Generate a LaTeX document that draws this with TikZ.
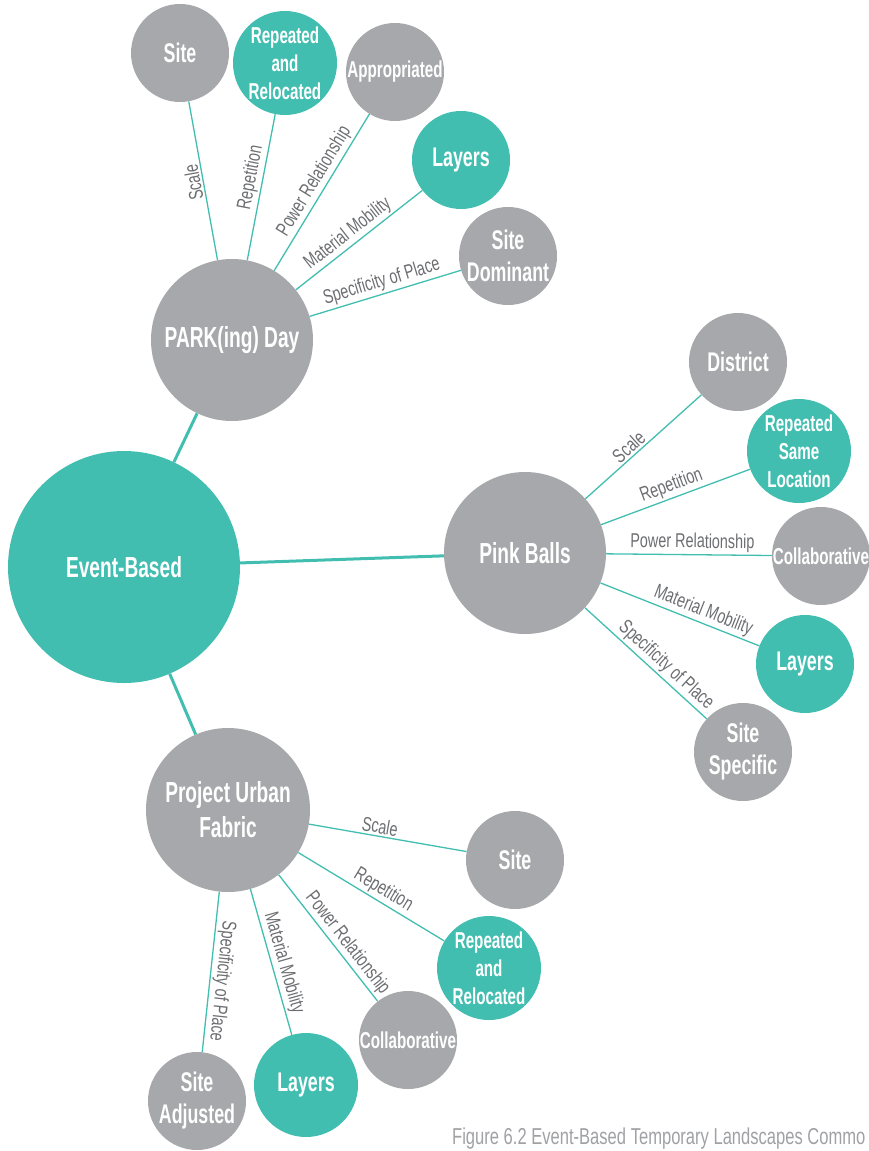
\documentclass[tikz,border=0pt]{standalone}
\usepackage{fontspec}
\usepackage{tikz}
\setmainfont{Liberation Sans}
\newfontfamily\bubblefont{Liberation Sans}[FakeStretch=0.66]
\newfontfamily\spokefont{Liberation Sans}[FakeStretch=0.72]

\definecolor{ebteal}{HTML}{42BEB1}
\definecolor{ebgray}{HTML}{A7A8AB}
\definecolor{spokegray}{HTML}{6D6E71}
\definecolor{figgray}{HTML}{A0A1A4}

\begin{document}
\begin{tikzpicture}[x=1pt, y=-1pt,
    bubble/.style={circle, inner sep=0pt, text=white, align=center},
    hubtext/.style={font=\bubblefont\bfseries\fontsize{29}{35}\selectfont},
    bigtext/.style={font=\bubblefont\bfseries\fontsize{27}{32}\selectfont},
    smalltext/.style={font=\bubblefont\bfseries\fontsize{23}{28}\selectfont},
    spoke/.style={draw=ebteal, line width=1.3pt},
    trunk/.style={draw=ebteal, line width=3pt},
    spokelabel/.style={font=\spokefont\fontsize{20}{24}\selectfont, text=spokegray, sloped, above, inner sep=2pt}]

\useasboundingbox (0, 0) rectangle (869, 1151);

\node[bubble, hubtext, fill=ebteal, minimum size=232] (eb) at (124, 567) {Event-Based};
\node[bubble, hubtext, fill=ebgray, minimum size=162] (park) at (232, 340) {PARK(ing) Day};
\node[bubble, hubtext, fill=ebgray, minimum size=162] (pink) at (525, 553) {Pink Balls};
\node[bubble, hubtext, fill=ebgray, minimum size=164] (puf) at (228, 810) {Project Urban\\Fabric};

\node[bubble, bigtext, fill=ebgray, minimum size=98] (park-site) at (180, 53) {Site};
\node[bubble, smalltext, fill=ebteal, minimum size=104] (park-rep) at (285, 63) {Repeated\\and\\Relocated};
\node[bubble, smalltext, fill=ebgray, minimum size=98] (park-appr) at (395, 72) {Appropriated};
\node[bubble, bigtext, fill=ebteal, minimum size=98] (park-lay) at (461, 160) {Layers};
\node[bubble, bigtext, fill=ebgray, minimum size=98] (park-dom) at (508, 256) {Site\\Dominant};

\node[bubble, bigtext, fill=ebgray, minimum size=98] (pink-dist) at (738, 362) {District};
\node[bubble, smalltext, fill=ebteal, minimum size=104] (pink-rep) at (799, 451) {Repeated\\Same\\Location};
\node[bubble, smalltext, fill=ebgray, minimum size=98] (pink-coll) at (821, 556) {Collaborative};
\node[bubble, bigtext, fill=ebteal, minimum size=98] (pink-lay) at (805, 664) {Layers};
\node[bubble, bigtext, fill=ebgray, minimum size=98] (pink-spec) at (743, 752) {Site\\Specific};

\node[bubble, bigtext, fill=ebgray, minimum size=98] (puf-site) at (515, 860) {Site};
\node[bubble, smalltext, fill=ebteal, minimum size=104] (puf-rep) at (489, 968) {Repeated\\and\\Relocated};
\node[bubble, smalltext, fill=ebgray, minimum size=98] (puf-coll) at (408, 1040) {Collaborative};
\node[bubble, bigtext, fill=ebteal, minimum size=104] (puf-lay) at (306, 1085) {Layers};
\node[bubble, bigtext, fill=ebgray, minimum size=98] (puf-adj) at (197, 1101) {Site\\Adjusted};

\draw[trunk] (eb) -- (park);
\draw[trunk] (eb) -- (pink);
\draw[trunk] (eb) -- (puf);

\draw[spoke] (park) -- node[spokelabel, allow upside down] {Scale} (park-site);
\draw[spoke] (park) -- node[spokelabel, pos=0.55] {Repetition} (park-rep);
\draw[spoke] (park) -- node[spokelabel, pos=0.53] {Power Relationship} (park-appr);
\draw[spoke] (park) -- node[spokelabel, pos=0.47] {Material Mobility} (park-lay);
\draw[spoke] (park) -- node[spokelabel] {Specificity of Place} (park-dom);

\draw[spoke] (pink) -- node[spokelabel, pos=0.43] {Scale} (pink-dist);
\draw[spoke] (pink) -- node[spokelabel] {Repetition} (pink-rep);
\draw[spoke] (pink) -- node[spokelabel, pos=0.52] {Power Relationship} (pink-coll);
\draw[spoke] (pink) -- node[spokelabel, pos=0.62] {Material Mobility} (pink-lay);
\draw[spoke] (pink) -- node[spokelabel, pos=0.6] {Specificity of Place} (pink-spec);

\draw[spoke] (puf) -- node[spokelabel, pos=0.44] {Scale} (puf-site);
\draw[spoke] (puf) -- node[spokelabel, pos=0.54] {Repetition} (puf-rep);
\draw[spoke] (puf) -- node[spokelabel, pos=0.6] {Power Relationship} (puf-coll);
\draw[spoke] (puf) -- node[spokelabel, pos=0.53] {Material Mobility} (puf-lay);
\draw[spoke] (puf) -- node[spokelabel, pos=0.55, allow upside down] {Specificity of Place} (puf-adj);

\node[font=\spokefont\fontsize{23}{27}\selectfont, text=figgray, anchor=base west, inner sep=0pt] (caption) at (452, 1144) {Figure 6.2 Event-Based Temporary Landscapes Commo};
\end{tikzpicture}
\end{document}
